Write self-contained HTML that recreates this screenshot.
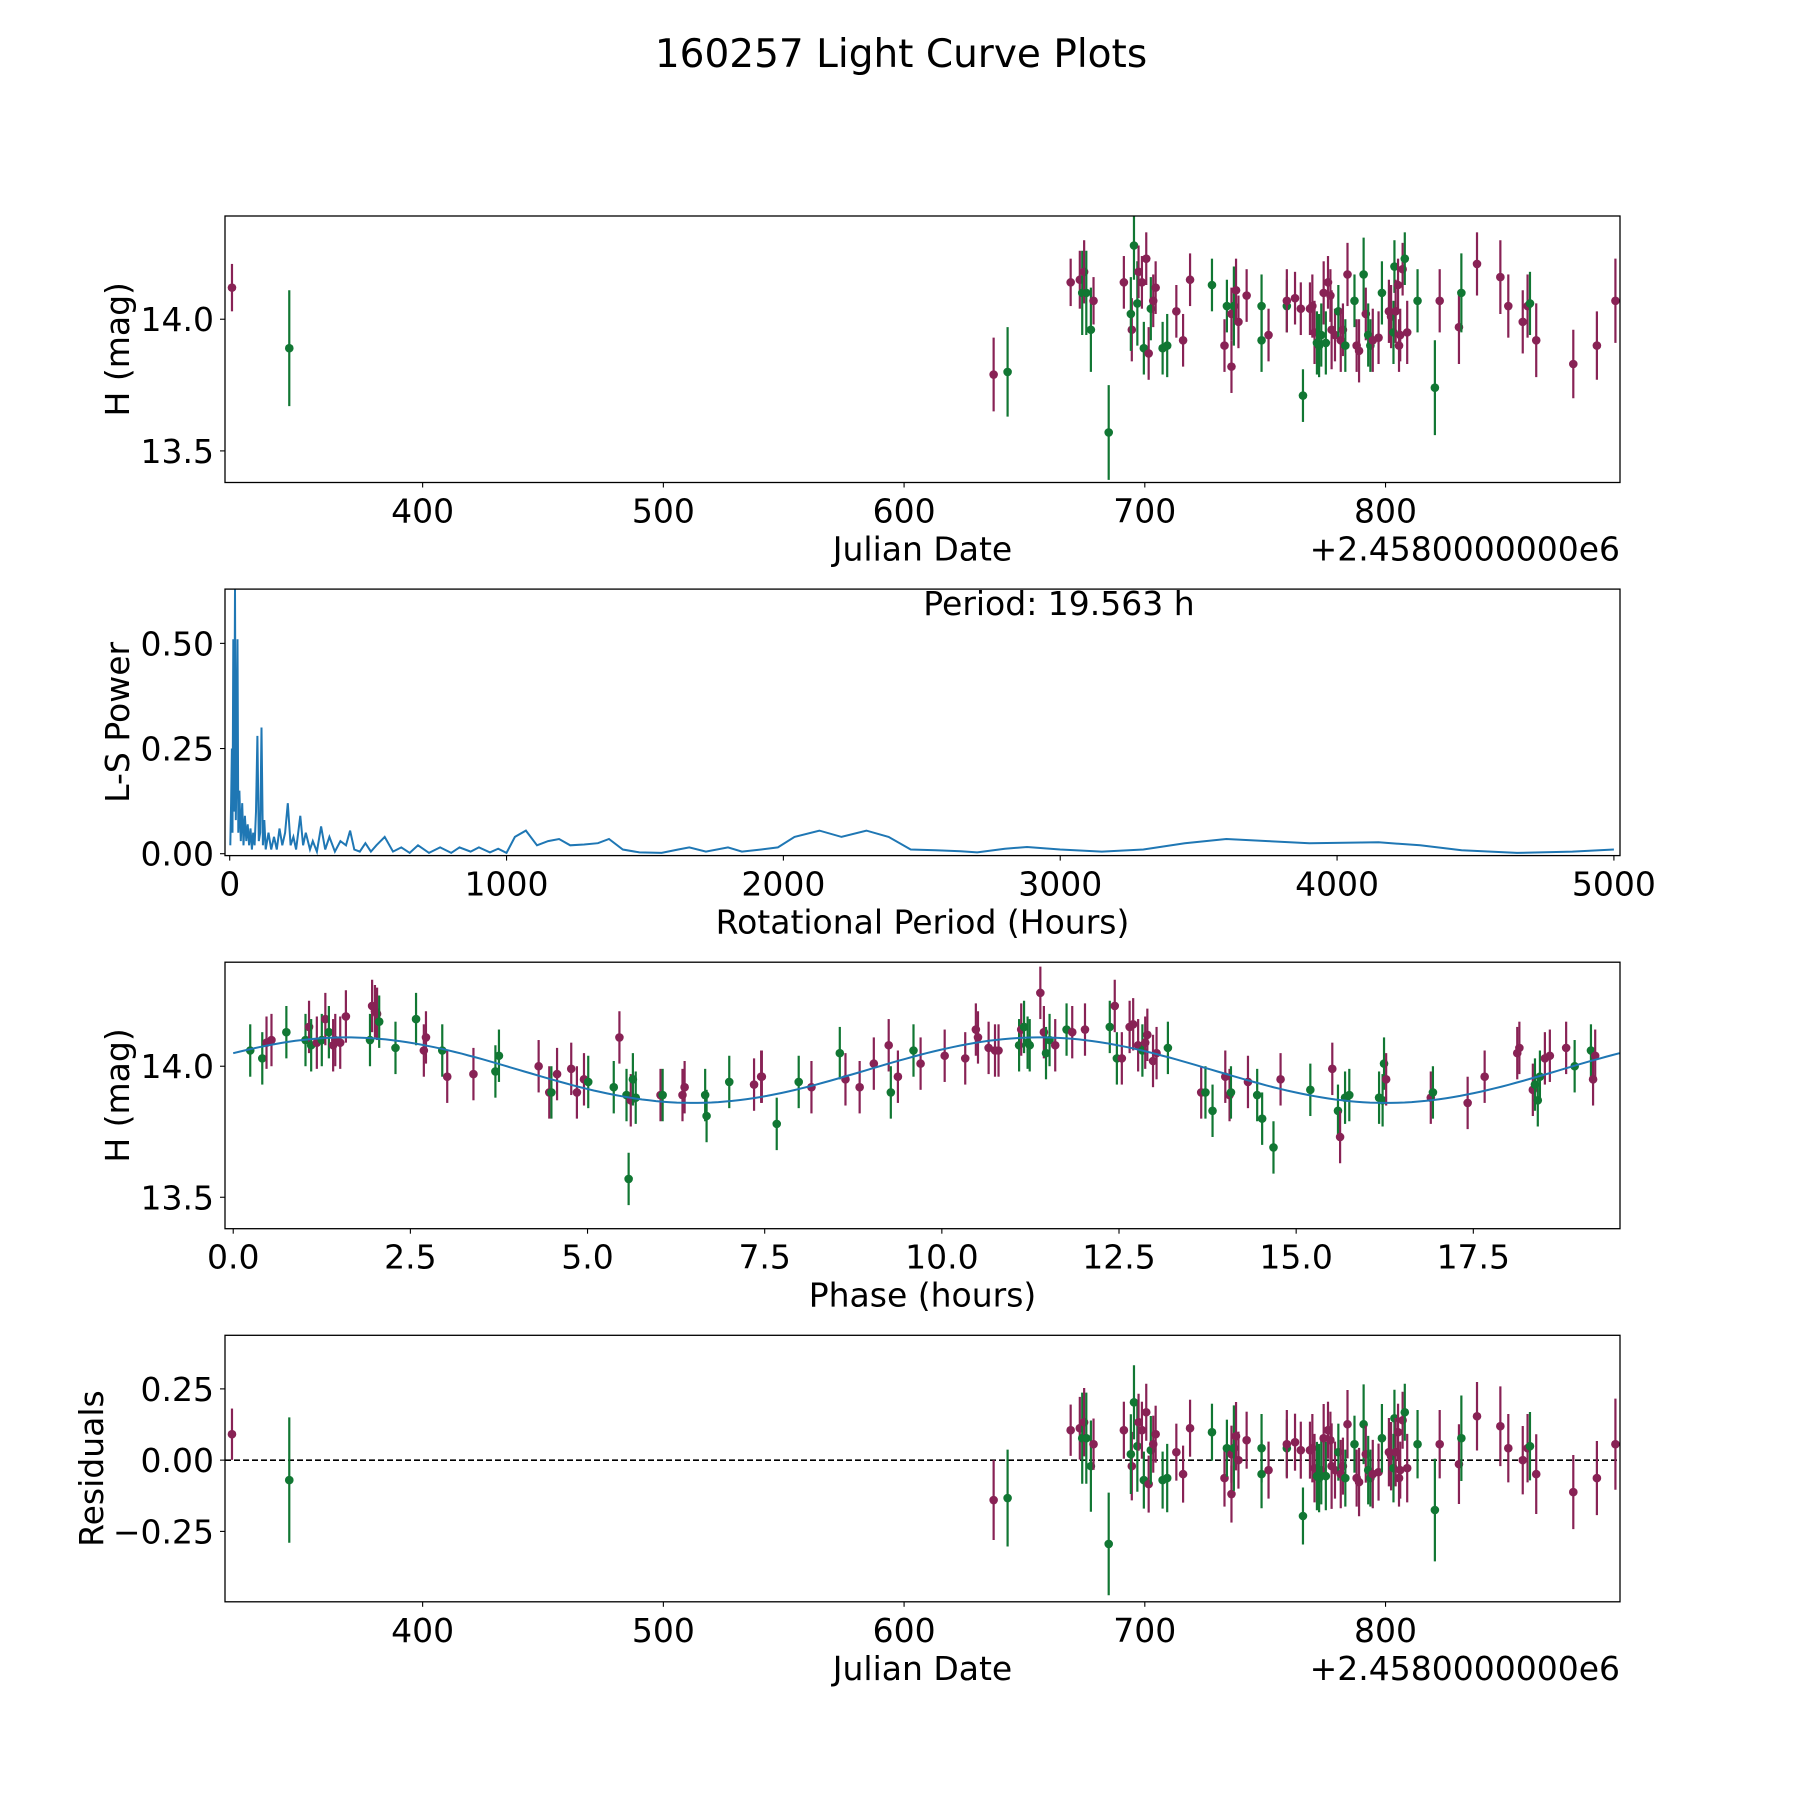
<!DOCTYPE html>
<html><head><meta charset="utf-8"><style>
html,body{margin:0;padding:0;background:#fff;}
svg text{font-family:"DejaVu Sans","Liberation Sans",sans-serif;fill:#000;}
</style></head><body>
<svg id="fig" xmlns="http://www.w3.org/2000/svg" width="1800" height="1800" viewBox="0 0 1800 1800">
<rect width="1800" height="1800" fill="#fff"/>
<text x="901" y="67" font-size="39" text-anchor="middle">160257 Light Curve Plots</text>
</svg>
<script>
// ---- Panel 1 data: Julian date offset, magnitude, error, filter ----
const jdVals=[320.8,344.6,637.2,643,669.2,673,674,674.8,675.7,677.6,678.7,685,691.3,694.6,694.2,695.5,696.9,697.4,698.8,699.6,700.6,701.6,702.5,703.5,704.5,707.4,709.3,713.1,715.9,718.8,727.9,733.1,734.1,736,736,737,737.9,738.9,742.3,748.5,748.5,751.4,759,759,762.4,764.8,765.7,768.6,769.6,770.5,771.5,772.4,773.3,774.3,775.2,776.1,777.1,777.6,779,780.4,781.4,782.3,783.3,784.2,787.1,788,789,790.9,791.8,792.8,793.7,794.7,797.1,798.5,801.4,802.3,803.3,803.7,804.2,805.2,805.6,806.1,807.1,808,809,813.3,820.5,822.5,830.5,831.5,838,847.7,851,857,859,860,862.6,878,887.8,895.5];
const magVals=[14.12,13.89,13.79,13.80,14.14,14.15,14.10,14.18,14.10,13.96,14.07,13.57,14.14,13.96,14.02,14.28,14.06,14.18,14.14,13.89,14.23,13.87,14.04,14.07,14.12,13.89,13.90,14.03,13.92,14.15,14.13,13.90,14.05,13.82,14.02,14.05,14.11,13.99,14.09,13.92,14.05,13.94,14.05,14.07,14.08,14.04,13.71,14.04,14.05,13.95,13.91,13.90,13.94,14.10,13.91,14.14,14.09,13.96,13.94,14.03,13.92,13.96,13.90,14.17,14.07,13.90,13.88,14.17,14.02,13.94,13.90,13.92,13.93,14.10,14.03,14.01,13.95,14.20,14.03,14.13,13.90,13.94,14.19,14.23,13.95,14.07,13.74,14.07,13.97,14.10,14.21,14.16,14.05,13.99,14.05,14.06,13.92,13.83,13.90,14.07];
const errVals=[0.09,0.22,0.14,0.17,0.09,0.11,0.16,0.12,0.16,0.16,0.09,0.18,0.1,0.12,0.14,0.13,0.16,0.1,0.1,0.1,0.1,0.1,0.12,0.1,0.1,0.1,0.12,0.1,0.1,0.1,0.1,0.1,0.1,0.1,0.1,0.15,0.12,0.1,0.1,0.12,0.12,0.1,0.1,0.12,0.1,0.1,0.1,0.1,0.12,0.12,0.12,0.12,0.12,0.12,0.12,0.1,0.1,0.15,0.1,0.1,0.12,0.1,0.1,0.12,0.1,0.1,0.12,0.14,0.1,0.12,0.1,0.12,0.1,0.12,0.12,0.12,0.12,0.1,0.12,0.1,0.1,0.1,0.1,0.1,0.12,0.12,0.18,0.12,0.14,0.15,0.12,0.14,0.12,0.12,0.12,0.12,0.14,0.13,0.13,0.16];
const filtVals="MGMGMMGMGGMGMMGGGMMGMMGMMGGMMMGMGMMGMMMGGMGMMMGMMMGGGMGMMMMGMMGMGMMGMGGMMGMMGGMMMMMGMGGMMGMMMMMGMMM".split("");
// ---- Panel 2 data: Lomb-Scargle periodogram ----
const lsPeriods=[2,5,8,10,13,16,19,22,25,28,31,35,40,45,50,55,60,65,70,75,80,85,90,95,100,105,110,115,120,125,130,140,150,160,170,180,190,200,210,220,230,240,255,265,275,290,300,315,330,345,360,380,400,420,435,450,470,490,510,530,560,590,620,650,680,720,760,800,830,870,900,940,970,1000,1030,1070,1110,1150,1190,1230,1280,1330,1370,1420,1480,1560,1620,1660,1720,1800,1850,1920,1980,2040,2130,2210,2300,2380,2460,2550,2640,2700,2800,2880,3000,3150,3300,3450,3600,3750,3900,4150,4300,4450,4650,4850,5000];
const lsPower=[0.02,0.12,0.25,0.05,0.51,0.1,0.63,0.08,0.2,0.51,0.05,0.15,0.03,0.12,0.02,0.09,0.03,0.07,0.02,0.06,0.01,0.05,0.02,0.1,0.28,0.03,0.05,0.30,0.02,0.08,0.01,0.05,0.01,0.04,0.01,0.06,0.02,0.05,0.12,0.02,0.04,0.01,0.09,0.02,0.05,0.01,0.03,0.005,0.065,0.01,0.04,0.005,0.03,0.02,0.055,0.01,0.005,0.025,0.005,0.02,0.04,0.005,0.015,0.002,0.02,0.002,0.015,0.002,0.015,0.005,0.015,0.003,0.012,0.002,0.04,0.055,0.02,0.03,0.035,0.02,0.022,0.025,0.035,0.01,0.003,0.002,0.01,0.015,0.005,0.015,0.005,0.01,0.015,0.04,0.055,0.04,0.055,0.04,0.01,0.008,0.006,0.003,0.012,0.016,0.01,0.005,0.01,0.025,0.035,0.03,0.025,0.027,0.02,0.008,0.002,0.005,0.01];
// ---- Panel 3 data: phase-folded ----
const phVals=[0.24,0.41,0.47,0.54,0.75,1.02,1.07,1.1,1.18,1.25,1.3,1.35,1.41,1.44,1.51,1.59,1.93,1.96,2.0,2.03,2.06,2.29,2.58,2.69,2.72,2.95,3.02,3.39,3.7,3.75,4.31,4.46,4.49,4.57,4.77,4.85,4.95,5.01,5.37,5.45,5.55,5.58,5.61,5.64,5.68,6.03,6.06,6.34,6.37,6.66,6.68,7.0,7.35,7.45,7.46,7.67,7.98,8.16,8.56,8.64,8.84,9.04,9.25,9.28,9.38,9.6,9.7,10.04,10.33,10.48,10.51,10.66,10.75,10.8,11.09,11.12,11.16,11.21,11.24,11.39,11.44,11.47,11.52,11.6,11.76,11.84,12.02,12.37,12.44,12.47,12.54,12.65,12.7,12.77,12.83,12.87,12.9,12.98,13.03,13.19,13.66,13.72,13.82,14.0,14.06,14.08,14.32,14.45,14.52,14.68,14.78,15.2,15.51,15.59,15.62,15.69,15.75,16.17,16.22,16.24,16.27,16.9,16.93,17.42,17.66,18.12,18.15,18.34,18.37,18.41,18.44,18.51,18.58,18.81,18.93,19.16,19.19,19.22,19.29,19.48];
const phMag=[14.06,14.03,14.09,14.10,14.13,14.10,14.15,14.08,14.09,14.10,14.18,14.13,14.08,14.10,14.09,14.19,14.10,14.23,14.21,14.20,14.17,14.07,14.18,14.06,14.11,14.06,13.96,13.97,13.98,14.04,14.0,13.90,13.90,13.97,13.99,13.90,13.95,13.94,13.92,14.11,13.89,13.57,13.87,13.95,13.88,13.89,13.89,13.89,13.92,13.89,13.81,13.94,13.93,13.96,13.96,13.78,13.94,13.92,14.05,13.95,13.92,14.01,14.08,13.90,13.96,14.06,14.01,14.04,14.03,14.14,14.11,14.07,14.06,14.06,14.08,14.14,14.15,14.09,14.08,14.28,14.13,14.05,14.10,14.08,14.14,14.13,14.14,14.15,14.23,14.03,14.03,14.15,14.16,14.08,14.06,14.09,14.12,14.02,14.05,14.07,13.90,13.90,13.83,13.96,13.89,13.90,13.94,13.89,13.80,13.69,13.95,13.91,13.99,13.83,13.73,13.88,13.89,13.88,13.87,14.01,13.95,13.88,13.90,13.86,13.96,14.05,14.07,13.91,13.93,13.87,13.96,14.03,14.04,14.07,14.00,14.06,13.95,14.04];
const phErr=0.1;
const phFilt="GGMMGGMGMGMGMMMMGMMMGGGMMGMMGGMMGMMMMGGMGGMGGMGMMGGGMMMGGMGMMMMGMGMMMMMMMMGMGGGMMGGMGMMGMGMMMMGMMMMGMGGMMGMGGGMGMGMGGGGGMMGMMMMMGGGMMMGG".split("");
// ---- Model fit parameters (phase curve) ----
const fitMean=[13.985];
const fitAmp=[0.125];
const fitPhasePeak=[1.6];
const fitPeriodHalf=[9.7815];
const periodText=["Period: 19.563 h"];

const NS="http://www.w3.org/2000/svg";
const svg=document.getElementById('fig');
const COL={M:"#882255",G:"#117733"};
function el(tag,attrs,parent){const e=document.createElementNS(NS,tag);for(const k in attrs)e.setAttribute(k,attrs[k]);(parent||svg).appendChild(e);return e;}
const L=225,R=1620,H=266.5,GAP=106.6,T0=216;
function panelTop(i){return T0+i*(H+GAP);}
function scale(d0,d1,r0,r1){return v=>r0+(v-d0)*(r1-r0)/(d1-d0);}
function frame(i,name,xmin,xmax,ymin,ymax,xt,xl,yt,yl,xlabel,ylabel,offsetText,ylabX){
  const top=panelTop(i),bot=top+H;
  const g=el('g',{});
  
  
  const sx=scale(xmin,xmax,L,R),sy=scale(ymin,ymax,bot,top);
  const clipId='clip'+i;
  const cp=el('clipPath',{id:clipId},g);el('rect',{x:L,y:top,width:R-L,height:H},cp);
  const plot=el('g',{'clip-path':'url(#'+clipId+')'},g);
  const axG=el('g',{},g);
  xt.forEach((v,k)=>{const x=sx(v);el('line',{x1:x,x2:x,y1:bot,y2:bot+5,stroke:'#000','stroke-width':1.1},axG);
    const t=el('text',{x:x,y:bot+40,'font-size':33,'text-anchor':'middle'},axG);t.textContent=xl[k];
    });
  yt.forEach((v,k)=>{const y=sy(v);el('line',{x1:L-5,x2:L,y1:y,y2:y,stroke:'#000','stroke-width':1.1},axG);
    const t=el('text',{x:L-11,y:y+12,'font-size':33,'text-anchor':'end'},axG);t.textContent=yl[k];
    });
  const xlab=el('text',{x:(L+R)/2,y:bot+78,'font-size':33,'text-anchor':'middle'},axG);xlab.textContent=xlabel;
  
  const ylab=el('text',{x:0,y:0,'font-size':33,'text-anchor':'middle',transform:`translate(${ylabX||129},${(top+bot)/2}) rotate(-90)`},axG);ylab.textContent=ylabel;
  
  if(offsetText){const o=el('text',{x:R,y:bot+78,'font-size':33,'text-anchor':'end'},axG);o.textContent=offsetText;
    }
  return {plot,sx,sy,axG,top,bot};
}
function border(p){el('rect',{x:L,y:p.top,width:R-L,height:H,fill:'none',stroke:'#000','stroke-width':1.3},p.axG);}
function errPoint(p,x,y,e,c,name){
  const g=el('g',{},p.plot);
  
  
  el('line',{x1:p.sx(x),x2:p.sx(x),y1:p.sy(y-e),y2:p.sy(y+e),stroke:c,'stroke-width':2.2},g);
  el('circle',{cx:p.sx(x),cy:p.sy(y),r:4.3,fill:c},g);
}
const JMIN=317.9,JMAX=897.4;
// Panel 1
const p1=frame(0,'light-curve-panel',JMIN,JMAX,13.38,14.392,[400,500,600,700,800],['400','500','600','700','800'],[13.5,14.0],['13.5','14.0'],'Julian Date','H (mag)','+2.4580000000e6');
jdVals.forEach((x,i)=>errPoint(p1,x,magVals[i],errVals[i],COL[filtVals[i]]||COL.M,'data-point'));
border(p1);
// Panel 2
const p2=frame(1,'periodogram-panel',-17,5022,-0.0045,0.629,[0,1000,2000,3000,4000,5000],['0','1000','2000','3000','4000','5000'],[0,0.25,0.5],['0.00','0.25','0.50'],'Rotational Period (Hours)','L-S Power');
const lsPath=el('path',{d:lsPeriods.map((v,i)=>(i?'L':'M')+p2.sx(v).toFixed(1)+','+p2.sy(lsPower[i]).toFixed(1)).join(''),fill:'none',stroke:'#1f77b4','stroke-width':2},p2.plot);


const pt=el('text',{x:1059,y:p2.top+26,'font-size':33,'text-anchor':'middle'},p2.axG);pt.textContent=periodText[0];


border(p2);
// Panel 3
const p3=frame(2,'phase-panel',-0.116,19.57,13.38,14.397,[0,2.5,5,7.5,10,12.5,15,17.5],['0.0','2.5','5.0','7.5','10.0','12.5','15.0','17.5'],[13.5,14.0],['13.5','14.0'],'Phase (hours)','H (mag)');
function model(ph){return fitMean[0]+fitAmp[0]*Math.cos(2*Math.PI*(ph-fitPhasePeak[0])/fitPeriodHalf[0]);}
let cd='';for(let k=0;k<=200;k++){const ph=19.563*k/200;cd+=(k?'L':'M')+p3.sx(ph).toFixed(1)+','+p3.sy(model(ph)).toFixed(1);}
phVals.forEach((x,i)=>errPoint(p3,x,phMag[i],phErr,COL[phFilt[i]]||COL.M,'phase-point'));
const fc=el('path',{d:cd,fill:'none',stroke:'#1f77b4','stroke-width':2},p3.plot);


border(p3);
// Panel 4
const p4=frame(3,'residuals-panel',JMIN,JMAX,-0.497,0.438,[400,500,600,700,800],['400','500','600','700','800'],[-0.25,0,0.25],['\u22120.25','0.00','0.25'],'Julian Date','Residuals','+2.4580000000e6',103);
const zl=el('line',{x1:L,x2:R,y1:p4.sy(0),y2:p4.sy(0),stroke:'#000','stroke-width':1.6,'stroke-dasharray':'6,3'},p4.plot);


jdVals.forEach((x,i)=>errPoint(p4,x,(magVals[i]-13.99)*0.7,errVals[i],COL[filtVals[i]]||COL.M,'residual-point'));
border(p4);
</script>
</body></html>
